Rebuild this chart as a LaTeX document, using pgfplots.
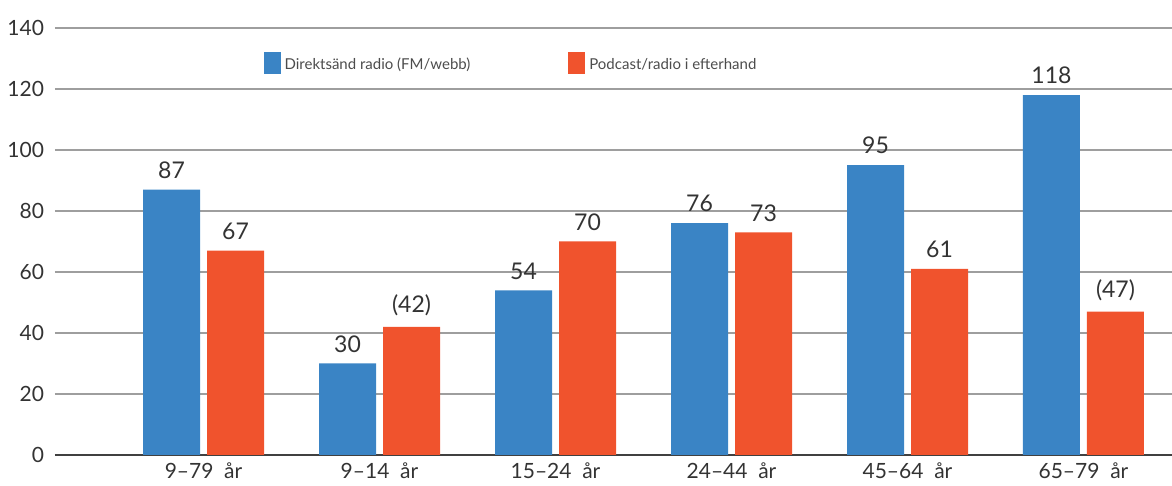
\documentclass[border=0pt]{standalone}
\usepackage{fontspec}
\setmainfont{Lato}
\usepackage{pgfplots}
\pgfplotsset{compat=1.18}
\definecolor{radioblue}{HTML}{3A84C5}
\definecolor{podred}{HTML}{F0532D}
\definecolor{txtgray}{HTML}{333333}

\begin{document}
\begin{tikzpicture}[x=1pt,y=1pt]
\begin{axis}[scale only axis,
  width=558.5pt, height=213.5pt,
  ybar=3.5pt, bar width=28.5pt,
  xmin=-0.844, xmax=5.503, ymin=0, ymax=140,
  ytick={0,20,...,140},
  xtick={0,...,5},
  xticklabels={9--79~~år,9--14~~år,15--24~~år,24--44~~år,45--64~~år,65--79~~år},
  axis lines=left,
  y axis line style={draw=none},
  x axis line style={draw=black!75, line width=0.9pt, -},
  ymajorgrids, grid style={draw=black!38, line width=0.7pt},
  major tick length=0pt,
  tick label style={font=\fontsize{10.5}{12}\selectfont, text=txtgray},
  /pgf/number format/assume math mode=true,
  yticklabel style={xshift=-2pt},
  xticklabel style={yshift=-0.5pt},
  nodes near coords,
  point meta=explicit symbolic,
  every node near coord/.append style={font=\fontsize{11.5}{13}\selectfont, text=txtgray, yshift=2pt},
  legend columns=2,
  legend style={at={(0.181,0.955)}, anchor=north west, draw=none, fill=none,
    font=\fontsize{7.5}{9}\selectfont, text=black!70,
    /tikz/every even column/.append style={column sep=47pt}},
  legend image code/.code={\fill[#1] (0pt,-4pt) rectangle (8.5pt,7pt);},
]
\addplot[fill=radioblue, draw=none] coordinates {
  (0,87) [87] (1,30) [30] (2,54) [54] (3,76) [76] (4,95) [95] (5,118) [118]};
\addplot[fill=podred, draw=none] coordinates {
  (0,67) [67] (1,42) [(42)] (2,70) [70] (3,73) [73] (4,61) [61] (5,47) [(47)]};
\legend{Direktsänd radio (FM/webb), Podcast/radio i efterhand}
\coordinate (o) at (rel axis cs:0,0);
\end{axis}
\pgfresetboundingbox
\path ([shift={(-27.5pt,-15.5pt)}]o) rectangle ++(586pt,243pt);
\end{tikzpicture}
\end{document}
